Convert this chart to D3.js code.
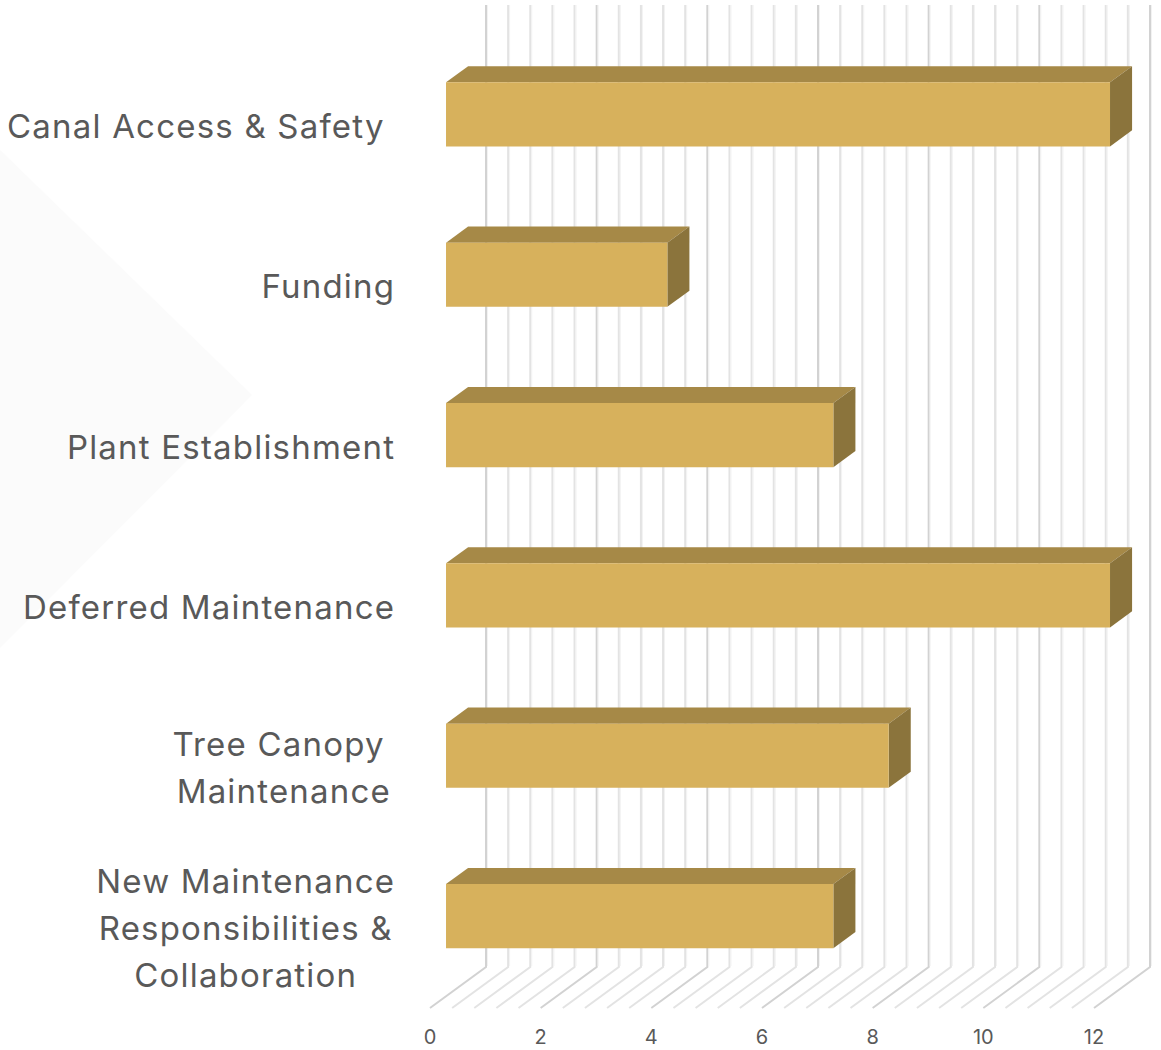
<!DOCTYPE html>
<html>
<head>
<meta charset="utf-8">
<script src="https://cdn.jsdelivr.net/npm/d3@7"></script>
<style>
  html, body { margin: 0; padding: 0; background: #ffffff; }
  svg { display: block; }
  text { font-family: Inter, "Noto Sans", sans-serif; }
</style>
</head>
<body>
<svg id="chart" width="1161" height="1050"></svg>
<script>
// ---- data ----
const categories = [
  "Canal Access & Safety",
  "Funding",
  "Plant Establishment",
  "Deferred Maintenance",
  "Tree Canopy Maintenance",
  "New Maintenance Responsibilities & Collaboration"
];
const labelLines = [
  ["Canal Access & Safety "],
  ["Funding"],
  ["Plant Establishment"],
  ["Deferred Maintenance"],
  ["Tree Canopy ", "Maintenance"],
  ["New Maintenance", "Responsibilities &", "Collaboration"]
];
const values = [12, 4, 7, 12, 8, 7];
const tickValues = [0, 2, 4, 6, 8, 10, 12];
const minorStep = 0.4;

// ---- layout ----
const svg = d3.select("#chart");
const DX = 56, DY = 41;          // full depth offset (oblique projection)
const f1 = 0.286, f2 = 0.68;      // bar depth range
const x = d3.scaleLinear().domain([0, 12]).range([430, 1094]);
const y = d3.scaleBand().domain(categories).range([46, 1008]).paddingInner(0.6).paddingOuter(0.3);
const floorY = 1008, wallTopY = 46;
const P = (xv, yv, d) => [xv + DX * d, yv - DY * d];

// background chevron
svg.append("path")
  .attr("d", "M0,150 L252,395 L0,648 Z")
  .attr("fill", "#fbfbfb");

// gridlines on back wall + floor
const grid = d3.range(0, 12 + 1e-9, minorStep).map(v => +v.toFixed(2));
const gg = svg.append("g");
grid.forEach(v => {
  const major = Math.abs(v / 2 - Math.round(v / 2)) < 1e-6;
  const top = P(x(v), wallTopY, 1);
  const bot = P(x(v), floorY, 1);
  const front = P(x(v), floorY, 0);
  gg.append("path")
    .attr("d", d3.line()([top, bot, front]))
    .attr("fill", "none")
    .attr("stroke", major ? "#d2d2d2" : "#e3e3e3")
    .attr("stroke-width", 2);
  gg.append("path")
    .attr("d", d3.line()([[top[0] + 1.5, top[1]], [bot[0] + 1.5, bot[1] - 1]]))
    .attr("fill", "none")
    .attr("stroke", "#f2f2f2")
    .attr("stroke-width", 1);
});

// bars
const bars = svg.append("g");
categories.forEach((c, i) => {
  const v = values[i];
  const y0 = y(c), y1 = y(c) + y.bandwidth();
  const x0 = x(0), x1 = x(v);
  const front = [P(x0, y0, f1), P(x1, y0, f1), P(x1, y1, f1), P(x0, y1, f1)];
  const top = [P(x0, y0, f1), P(x1, y0, f1), P(x1, y0, f2), P(x0, y0, f2)];
  const side = [P(x1, y0, f1), P(x1, y0, f2), P(x1, y1, f2), P(x1, y1, f1)];
  const g = bars.append("g");
  g.append("path").attr("d", "M" + top.join("L") + "Z").attr("fill", "#a68947");
  g.append("path").attr("d", "M" + side.join("L") + "Z").attr("fill", "#8b743c");
  g.append("path").attr("d", "M" + front.join("L") + "Z").attr("fill", "#d7b15c");
});

// category labels
const labelRight = 394, lineH = 47, fs = 33, ls = 1.2;
categories.forEach((c, i) => {
  const lines = labelLines[i];
  const cy = y(c) + y.bandwidth() / 2;
  const t = svg.append("text")
    .attr("font-size", fs)
    .attr("fill", "#595959")
    .attr("letter-spacing", ls)
    .style("white-space", "pre")
    .attr("text-anchor", "middle");
  const spans = lines.map((l, k) => t.append("tspan").text(l));
  const widths = spans.map(s => s.node().getComputedTextLength() - ls);
  const maxW = d3.max(widths);
  const n = lines.length;
  spans.forEach((s, k) => {
    const cx = labelRight - maxW / 2 + ls / 2;
    s.attr("x", cx).attr("y", cy + (k - (n - 1) / 2) * lineH + fs * 0.36);
  });
});

// value axis tick labels
svg.append("g").selectAll("text").data(tickValues).join("text")
  .attr("x", d => x(d))
  .attr("y", 1044)
  .attr("text-anchor", "middle")
  .attr("font-size", 20)
  .attr("fill", "#595959")
  .text(d => d);
</script>
</body>
</html>
